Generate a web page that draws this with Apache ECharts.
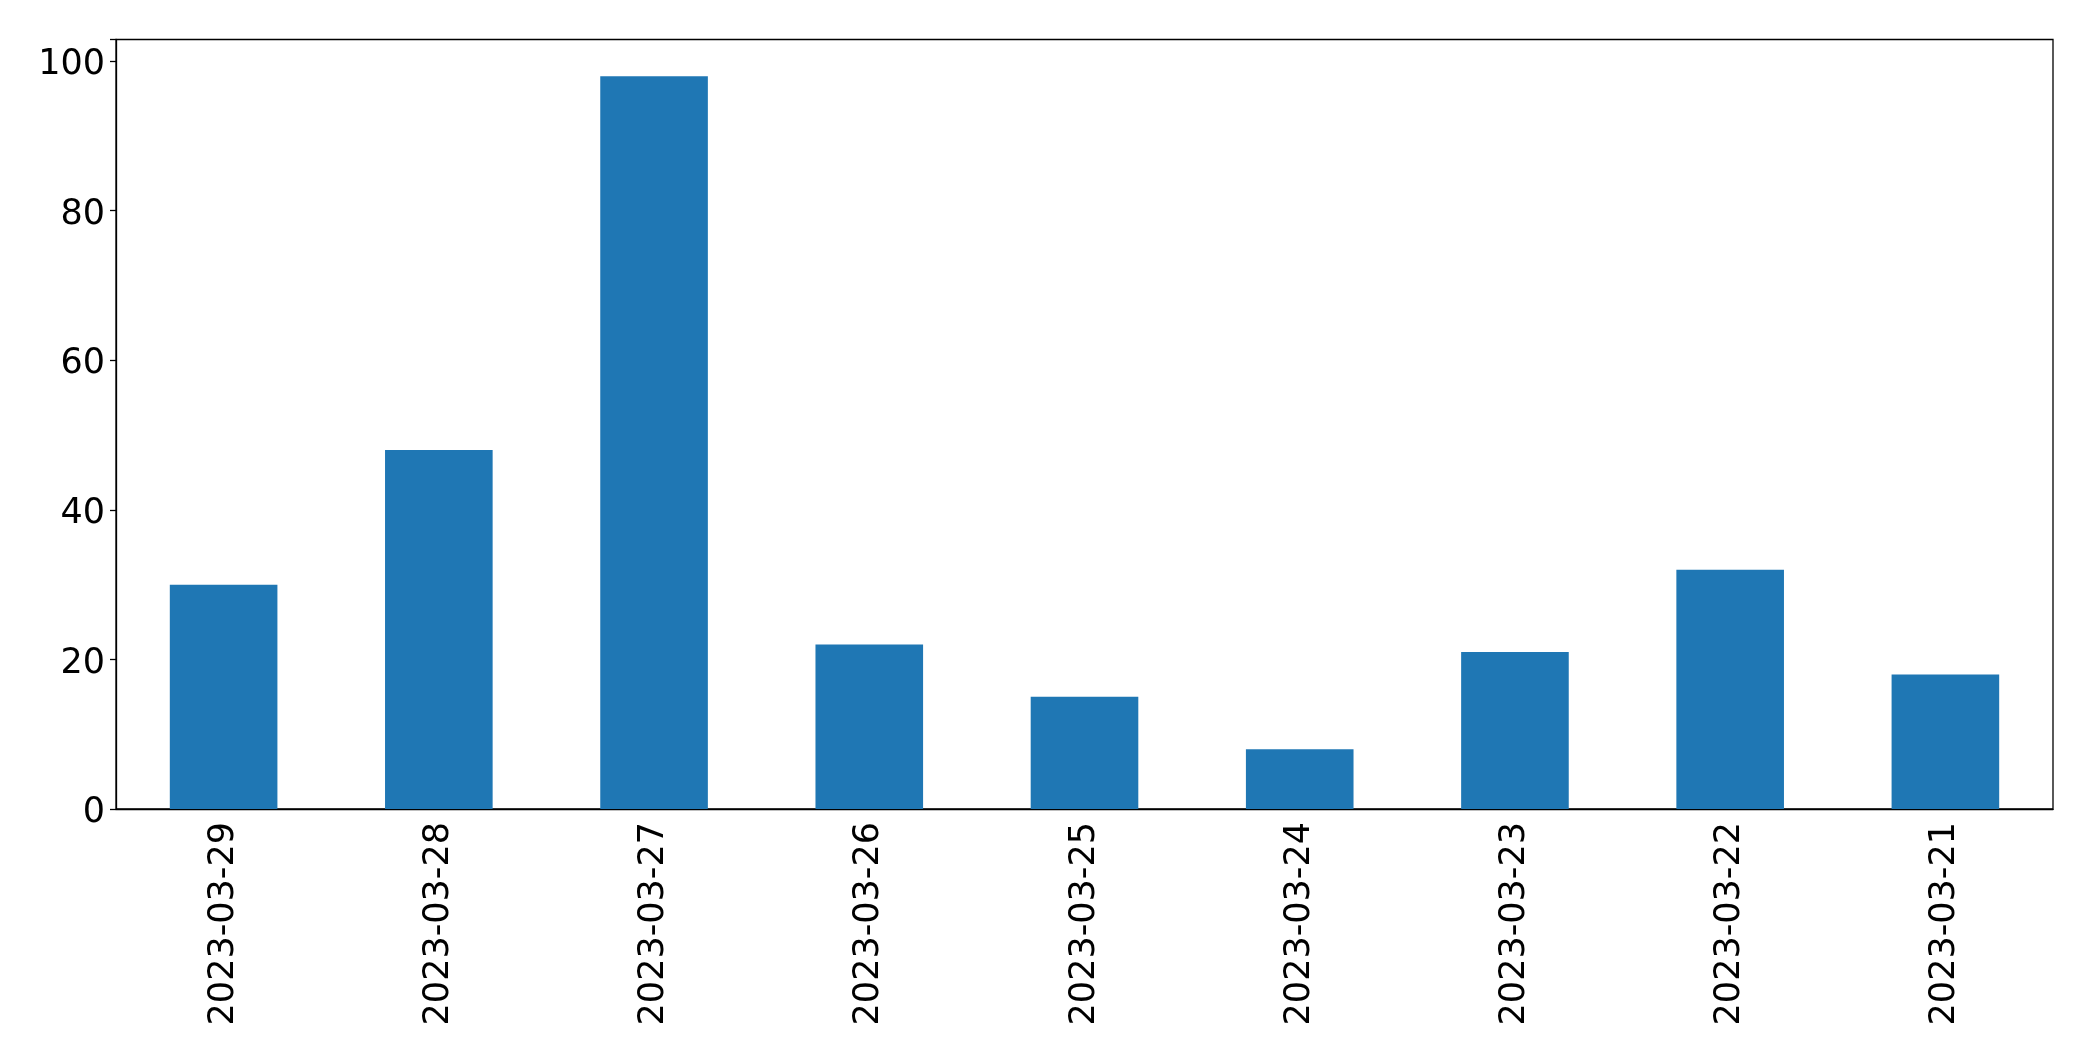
<!DOCTYPE html>
<html>
<head>
<meta charset="utf-8">
<script src="https://cdn.jsdelivr.net/npm/echarts@6/dist/echarts.min.js"></script>
<style>
html,body{margin:0;padding:0;background:#fff;}
#chart{width:2093px;height:1061px;}
</style>
</head>
<body>
<div id="chart"></div>
<script>
const categories = ["2023-03-29","2023-03-28","2023-03-27","2023-03-26","2023-03-25","2023-03-24","2023-03-23","2023-03-22","2023-03-21"];
const values = [30, 48, 98, 22, 15, 8, 21, 32, 18];
const yTicks = [0, 20, 40, 60, 80, 100];

const chart = echarts.init(document.getElementById('chart'), null, {renderer:'canvas'});
const font = 'DejaVu Sans';
chart.setOption({
  animation: false,
  backgroundColor: '#ffffff',
  grid: {
    left: 116, right: 40, top: 39.5, bottom: 252,
    show: true, borderColor: '#000', borderWidth: 1.3, backgroundColor: 'transparent'
  },
  xAxis: {
    type: 'category',
    data: categories,
    axisLine: {lineStyle: {color: '#000', width: 1.3}},
    axisTick: {alignWithLabel: true, length: 6, lineStyle: {color: '#000', width: 1.3}},
    axisLabel: {rotate: 90, color: '#000', fontFamily: font, fontSize: 35, margin: 13}
  },
  yAxis: {
    type: 'value',
    min: 0, max: 102.9, interval: 20,
    splitLine: {show: false},
    axisLine: {show: true, lineStyle: {color: '#000', width: 1.3}},
    axisTick: {show: true, length: 6, lineStyle: {color: '#000', width: 1.3}},
    axisLabel: {color: '#000', fontFamily: font, fontSize: 35, margin: 11,
      formatter: function(v){ return yTicks.indexOf(v) >= 0 ? '{a|' + v + '}' : ''; },
      rich: {a: {fontFamily: font, fontSize: 35, color: '#000', padding: [8, 0, 0, 0]}}
    }
  },
  series: [{
    type: 'bar',
    data: values,
    barWidth: '50%',
    itemStyle: {color: '#1f77b4'}
  }]
});
</script>
</body>
</html>
